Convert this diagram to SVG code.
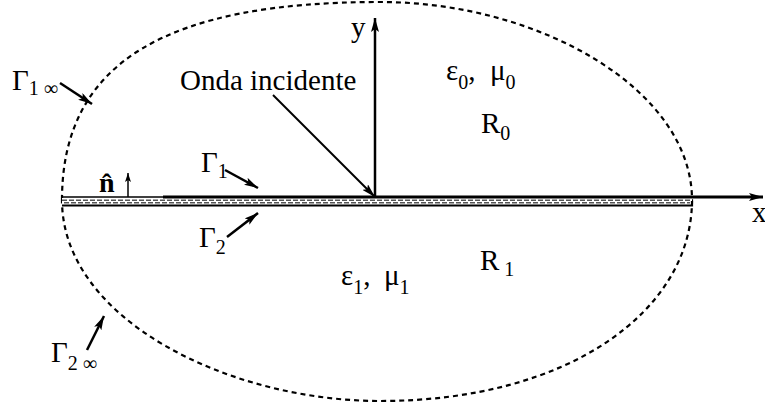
<svg xmlns="http://www.w3.org/2000/svg" width="765" height="408" viewBox="0 0 765 408">
<style>
text{font-family:"Liberation Serif","Times New Roman",serif;fill:#000}
.lbl{font-size:29px}
.sub{font-size:20px}
.bnd{fill:none;stroke:#000;stroke-width:2.2;stroke-dasharray:5 4}
.ln{fill:none;stroke:#000}
.dsh{fill:none;stroke:#555;stroke-width:1.4;stroke-dasharray:5 2}
</style>
<defs>
<marker id="ah" viewBox="0 0 14 8" refX="14" refY="4" markerWidth="14" markerHeight="8" markerUnits="userSpaceOnUse" orient="auto"><path d="M0,0 L14,4 L0,8 L3,4 Z" fill="#000"/></marker>
<marker id="ahs" viewBox="0 0 9 6" refX="9" refY="3" markerWidth="9" markerHeight="6" markerUnits="userSpaceOnUse" orient="auto"><path d="M0,0 L9,3 L0,6 L2,3 Z" fill="#000"/></marker>
</defs>
<g id="boundary">
<path class="bnd" d="M62,200 C62,60 170,2 380,2 C540,2 692,90 692,200 C692,310 570,401 380,401 C230,401 62,320 62,200 Z"/>
</g>
<g id="strip">
<rect x="62" y="198" width="630" height="7" fill="#fff"/>
<path class="dsh" d="M62,200.3 H690"/>
<path class="dsh" d="M64,202.7 H690"/>
<path class="ln" stroke-width="2.2" d="M62,205.5 H692 V201"/>
<path class="ln" stroke-width="1.6" d="M62,197 H163"/>
</g>
<g id="connectors">
<path id="x-axis" class="ln" stroke-width="3" d="M163,197 H763" marker-end="url(#ah)"/>
<path id="y-axis" class="ln" stroke-width="2.5" d="M375,197 V18" marker-end="url(#ah)"/>
<path id="onda-arrow" class="ln" stroke-width="2" d="M273,95 L375,197" marker-end="url(#ah)"/>
<path id="n-arrow" class="ln" stroke-width="1.5" d="M128,197 V173" marker-end="url(#ahs)"/>
<path id="g1inf-arrow" class="ln" stroke-width="2.5" d="M60,83 L92,104" marker-end="url(#ah)"/>
<path id="g2inf-arrow" class="ln" stroke-width="2.5" d="M87,350 L104,316" marker-end="url(#ah)"/>
<path id="g1-arrow" class="ln" stroke-width="2.5" d="M225,170 L258,188" marker-end="url(#ah)"/>
<path id="g2-arrow" class="ln" stroke-width="2.5" d="M227,237 L258,213" marker-end="url(#ah)"/>
</g>
<g id="label-y"><text class="lbl" x="351" y="37">y</text></g>
<g id="label-x"><text class="lbl" x="752" y="222">x</text></g>
<g id="label-onda"><text class="lbl" x="180" y="90">Onda incidente</text></g>
<g id="label-eps0"><text class="lbl" x="446" y="80">ε<tspan class="sub" dy="9">0</tspan><tspan dy="-9">,</tspan><tspan x="490">μ</tspan><tspan class="sub" dy="9">0</tspan></text></g>
<g id="label-R0"><text class="lbl" x="481" y="133">R<tspan class="sub" dy="7">0</tspan></text></g>
<g id="label-R1"><text class="lbl" x="480" y="270">R<tspan class="sub" dy="6"> 1</tspan></text></g>
<g id="label-eps1"><text class="lbl" x="341" y="285">ε<tspan class="sub" dy="9">1</tspan><tspan dy="-9">,</tspan><tspan x="384">μ</tspan><tspan class="sub" dy="9">1</tspan></text></g>
<g id="label-g1inf"><text class="lbl" x="12" y="90">Γ<tspan class="sub" dy="5">1 ∞</tspan></text></g>
<g id="label-g2inf"><text class="lbl" x="51" y="362">Γ<tspan class="sub" dy="8">2 ∞</tspan></text></g>
<g id="label-g1"><text class="lbl" x="201" y="172">Γ<tspan class="sub" dy="6">1</tspan></text></g>
<g id="label-g2"><text class="lbl" x="199" y="247">Γ<tspan class="sub" dy="7">2</tspan></text></g>
<g id="label-n"><text x="99" y="192" style="font-size:28px;font-weight:bold">n̂</text></g>
</svg>
